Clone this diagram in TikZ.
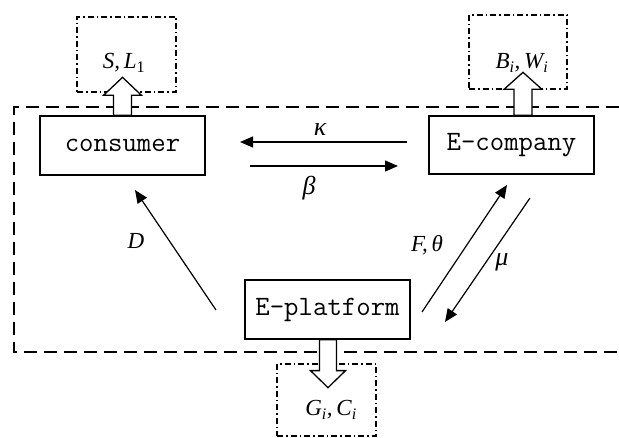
\documentclass[tikz,border=0pt]{standalone}
\usepackage{fontspec}
\newfontfamily\lblfont{Liberation Serif}
\usetikzlibrary{arrows.meta}
\newcommand\lsub[1]{\textsubscript{#1}}
\tikzset{
  agent/.style={draw, line width=1.3pt, minimum width=165pt, minimum height=59pt, inner sep=0pt,
    font=\ttfamily\fontsize{28}{28}\selectfont},
  outcome/.style={draw, line width=1.1pt, dash pattern=on 6pt off 3pt on 1.5pt off 3pt, inner sep=0pt},
  flow/.style={line width=1.2pt, -{Triangle[length=13pt,width=11pt]}},
  lbl/.style={font=\lblfont\itshape\fontsize{23}{23}\selectfont, inner sep=0pt},
  glbl/.style={font=\lblfont\itshape\fontsize{26}{26}\selectfont, inner sep=0pt},
  hollow/.style={draw, line width=1.3pt, fill=white},
  frame/.style={line width=1.1pt, dash pattern=on 13pt off 7pt}
}
\begin{document}
\begin{tikzpicture}[x=1pt,y=-1pt]
\useasboundingbox (0,0) rectangle (619,438);
% outer dashed frame
\coordinate (f1) at (619,107);
\coordinate (f2) at (14,107);
\coordinate (f3) at (14,352);
\coordinate (f4) at (619,352);
\draw[frame] (f1) -- (f2) -- (f3) -- (f4);
% outcome boxes
\node[outcome, minimum width=99pt, minimum height=75pt] (sl) at (126.5,54.5) {};
\node[outcome, minimum width=98pt, minimum height=74pt] (bw) at (518,52) {};
\node[outcome, minimum width=99pt, minimum height=72pt] (gc) at (326.5,400) {};
% agents
\node[agent] (consumer) at (122.5,145.5) {consumer};
\node[agent, minimum height=58pt] (ecompany) at (511.5,145) {E-company};
\node[agent] (eplatform) at (327.5,309.5) {E-platform};
% hollow arrows
\draw[hollow] ([xshift=-9pt]consumer.north) -- ++(0,-20) -- ++(-10,0) -- ++(19,-18) -- ++(19,18) -- ++(-10,0) -- ([xshift=9pt]consumer.north) -- cycle;
\draw[hollow] ([xshift=2.5pt]ecompany.north) -- ++(0,-26) -- ++(-10,0) -- ++(19,-17) -- ++(19,17) -- ++(-10,0) -- ([xshift=20.5pt]ecompany.north) -- cycle;
\draw[hollow] ([xshift=-8pt]eplatform.south) -- ++(0,31) -- ++(-9,0) -- ++(17.5,17) -- ++(17.5,-17) -- ++(-9,0) -- ([xshift=9pt]eplatform.south) -- cycle;
% labels of outcomes
\node[lbl] (lsl) at (124,63) {S,\,L\lsub{\upshape 1}};
\node[lbl] (lbw) at (522,63) {B\lsub{i},\,W\lsub{i}};
\node[lbl] (lgc) at (331,410) {G\lsub{i},\,C\lsub{i}};
% flow arrows
\coordinate (kA) at (407,142);
\coordinate (kB) at (240,142);
\coordinate (bA) at (250,166);
\coordinate (bB) at (398,166);
\coordinate (dA) at (216,310);
\coordinate (dB) at (135,190);
\coordinate (fA) at (422,312);
\coordinate (fB) at (507,185);
\coordinate (mA) at (530,198);
\coordinate (mB) at (445,322);
\draw[flow] (kA) -- (kB);
\draw[flow] (bA) -- (bB);
\draw[flow] (dA) -- (dB);
\draw[flow] (fA) -- (fB);
\draw[flow] (mA) -- (mB);
\node[glbl] (lk) at (320,130) {κ};
\node[glbl] (lb) at (309,188) {β};
\node[lbl] (ld) at (136,241) {D};
\node[lbl] (lf) at (427,245) {F,\,θ};
\node[glbl] (lm) at (502,262) {μ};
\end{tikzpicture}
\end{document}
